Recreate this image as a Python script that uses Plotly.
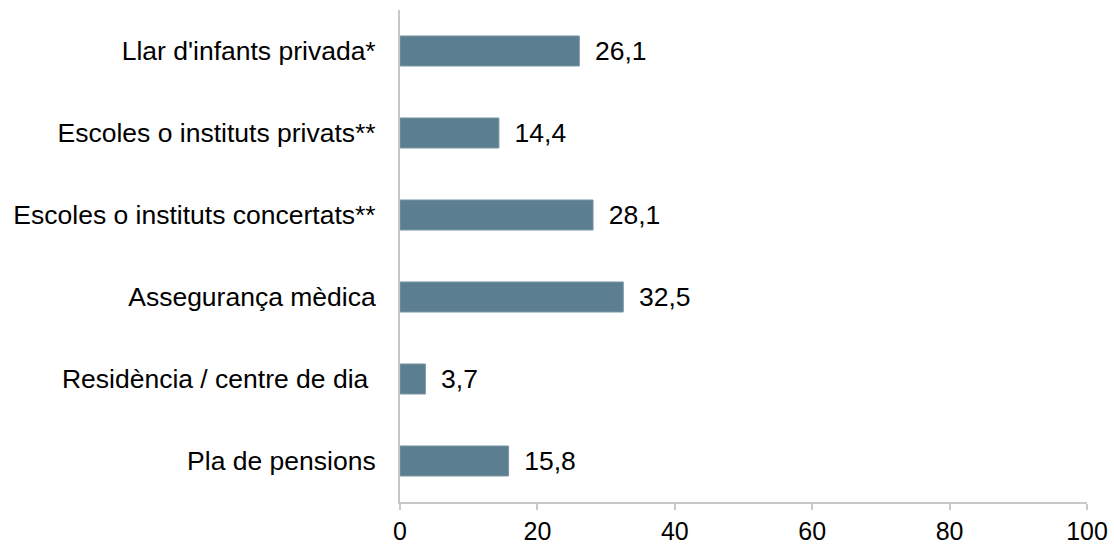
import plotly.graph_objects as go

categories = ["Pla de pensions", "Residència / centre de dia\u00a0", "Assegurança mèdica",
              "Escoles o instituts concertats**", "Escoles o instituts privats**",
              "Llar d'infants privada*"]
values = [15.8, 3.7, 32.5, 28.1, 14.4, 26.1]
labels = [" \u2009" + f"{v:.1f}".replace(".", ",") for v in values]
x_ticks = [0, 20, 40, 60, 80, 100]

FONT = "Liberation Sans, Arial, sans-serif"
FS = 26.5

fig = go.Figure(go.Bar(
    y=categories, x=values, orientation="h",
    marker=dict(color="#5b7e91", line=dict(color="#7a97a6", width=1)),
    width=0.366,
    text=labels, textposition="outside", cliponaxis=False,
    textfont=dict(family=FONT, size=FS, color="#000000"),
    hoverinfo="skip",
))

fig.update_layout(
    width=1114, height=546,
    margin=dict(l=400, r=27, t=10, b=44, autoexpand=False),
    plot_bgcolor="white", paper_bgcolor="white",
    font=dict(family=FONT, size=FS, color="#000000"),
    showlegend=False,
)
fig.update_xaxes(
    range=[0, 100], tickvals=x_ticks, ticktext=[str(t) for t in x_ticks],
    showgrid=False, zeroline=False,
    showline=True, linecolor="#c8c8c8", linewidth=2,
    ticks="outside", ticklen=6, tickcolor="#c8c8c8", tickwidth=2,
    tickfont=dict(family=FONT, size=25),
)
fig.update_yaxes(
    showgrid=False, zeroline=False,
    showline=True, linecolor="#c8c8c8", linewidth=2,
    ticks="", ticklabelstandoff=17,
    tickfont=dict(family=FONT, size=FS),
)

fig.write_html(
    "out.html",
    config={"displayModeBar": False},
    post_script="document.body.style.margin='0';document.body.style.padding='0';",
)
